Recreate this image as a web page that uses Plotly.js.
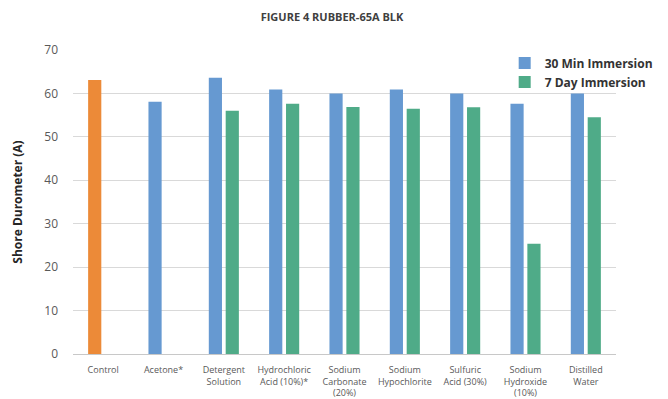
<!DOCTYPE html>
<html>
<head>
<meta charset="utf-8">
<script src="https://cdn.plot.ly/plotly-3.0.1.min.js"></script>
<style>
  html, body { margin: 0; padding: 0; background: #fff; }
  #chart { width: 668px; height: 399px; }
</style>
</head>
<body>
<div id="chart"></div>
<script>
// Test conditions (x-axis categories)
const categories = [
  "Control",
  "Acetone*",
  "Detergent<br>Solution",
  "Hydrochloric<br>Acid (10%)*",
  "Sodium<br>Carbonate<br>(20%)",
  "Sodium<br>Hypochlorite",
  "Sulfuric<br>Acid (30%)",
  "Sodium<br>Hydroxide<br>(10%)",
  "Distilled<br>Water"
];

// Untreated control reading (Shore A)
const controlValue = [63.1];

// Shore A hardness after 30 minutes immersion (control slot left empty)
const min30Values = [null, 58.1, 63.6, 60.9, 60.0, 60.9, 60.0, 57.6, 60.0];

// Shore A hardness after 7 days immersion (no reading for control / acetone)
const day7Values = [null, null, 56.0, 57.6, 56.9, 56.5, 56.8, 25.4, 54.5];

const seriesNames = ["30 Min Immersion", "7 Day Immersion"];

const blue = "#6699d1";
const green = "#4fab88";
const orange = "#ec8a38";

const traces = [
  {
    type: "bar",
    name: seriesNames[0],
    x: categories,
    y: min30Values,
    offsetgroup: "min30",
    marker: { color: blue },
    hoverinfo: "x+y"
  },
  {
    type: "bar",
    name: seriesNames[1],
    x: categories,
    y: day7Values,
    offsetgroup: "day7",
    marker: { color: green },
    hoverinfo: "x+y"
  },
  {
    // control sits in the 30-minute slot, highlighted in orange
    type: "bar",
    name: categories[0],
    x: [categories[0]],
    y: controlValue,
    offsetgroup: "min30",
    marker: { color: orange },
    showlegend: false,
    hoverinfo: "x+y"
  }
];

const layout = {
  width: 668,
  height: 399,
  margin: { l: 73, r: 10, t: 50, b: 45 },
  paper_bgcolor: "#ffffff",
  plot_bgcolor: "#ffffff",
  barmode: "group",
  bargap: 0.44,
  bargroupgap: 0.22,
  showlegend: true,
  title: {
    text: "<b>FIGURE 4 RUBBER-65A BLK</b>",
    font: { family: "Open Sans, sans-serif", size: 11, color: "#404040" },
    x: 0.497,
    xanchor: "center",
    y: 0.957,
    yanchor: "middle"
  },
  xaxis: {
    type: "category",
    categoryorder: "array",
    categoryarray: categories,
    tickfont: { family: "Open Sans, sans-serif", size: 9, color: "#595959" },
    showgrid: false,
    showline: false,
    ticks: "",
    ticklabelstandoff: 9,
    fixedrange: true
  },
  yaxis: {
    range: [0, 70],
    dtick: 10,
    tickfont: { family: "Open Sans, sans-serif", size: 12, color: "#595959" },
    showgrid: true,
    gridcolor: "#d9d9d9",
    gridwidth: 1,
    zeroline: true,
    zerolinecolor: "#c8c8c8",
    zerolinewidth: 1,
    showline: false,
    ticks: "",
    ticklabelstandoff: 14,
    title: {
      text: "<b>Shore Durometer (A)</b>",
      font: { family: "Open Sans, sans-serif", size: 12, color: "#262626" },
      standoff: 19
    },
    fixedrange: true
  },
  legend: {
    x: 0.795,
    xanchor: "left",
    y: 1.005,
    yanchor: "top",
    bgcolor: "rgba(255,255,255,0)",
    font: { family: "Open Sans, sans-serif", size: 12, color: "#333333", weight: "bold" },
    itemwidth: 30,
    tracegroupgap: 0,
    traceorder: "normal"
  }
};

Plotly.newPlot("chart", traces, layout, { displayModeBar: false, staticPlot: true });
</script>
</body>
</html>
